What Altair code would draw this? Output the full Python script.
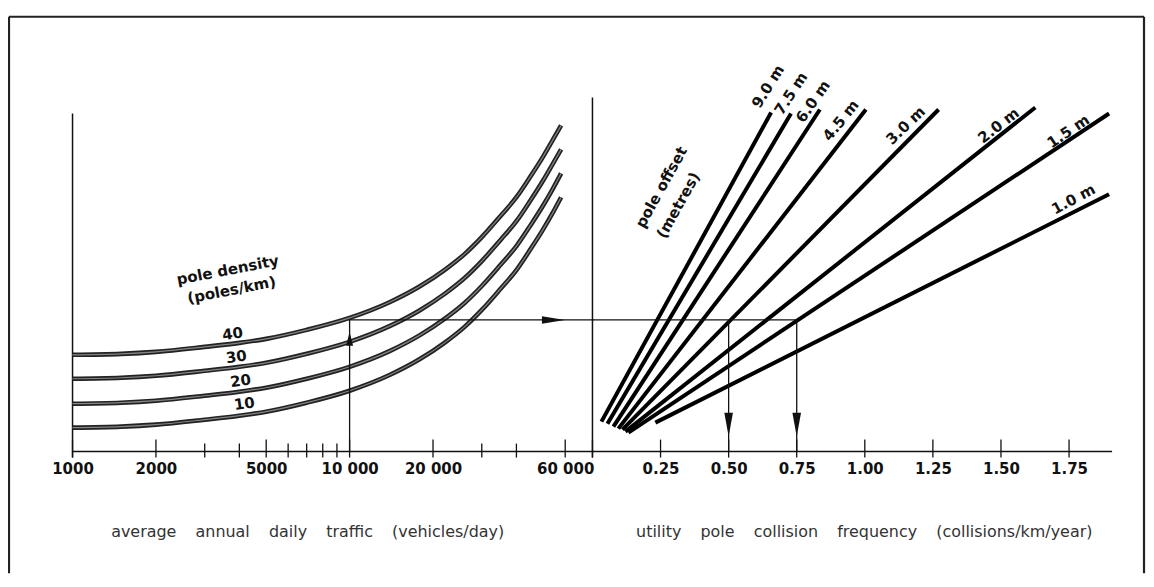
import altair as alt
import pandas as pd

W, H = 1138, 558

# ---------------- left panel: traffic (log) vs pole density ----------------
adt_points = [1000, 1500, 2000, 3000, 4000, 5000, 7000, 10000, 14000, 18000,
              22000, 26000, 30000, 35000, 40000, 45000, 50000, 54000, 58000]
density_values = [40, 30, 20, 10]
curve_40 = [9.7, 9.8, 10.0, 10.5, 10.9, 11.3, 12.2, 13.4, 15.0, 16.6, 18.2, 19.8, 21.5, 23.6, 25.5, 27.6, 29.6, 31.2, 32.7]
curve_30 = [7.3, 7.4, 7.6, 8.1, 8.5, 8.9, 9.8, 11.0, 12.6, 14.2, 15.8, 17.4, 19.1, 21.2, 23.1, 25.2, 27.2, 28.8, 30.3]
curve_20 = [4.8, 4.9, 5.1, 5.6, 6.0, 6.4, 7.3, 8.5, 10.1, 11.7, 13.3, 14.9, 16.6, 18.7, 20.6, 22.7, 24.7, 26.3, 27.9]
curve_10 = [2.4, 2.5, 2.7, 3.2, 3.6, 4.0, 4.9, 6.1, 7.7, 9.3, 10.9, 12.5, 14.2, 16.3, 18.2, 20.3, 22.3, 23.9, 25.5]
density_label_adt = [3780, 3900, 4040, 4170]
density_label_z = [11.8, 9.5, 7.1, 4.8]
density_title = ["pole density", "(poles/km)"]
density_title_adt = [3630, 3750]
density_title_z = [18.2, 16.2]

adt_ticks = [1000, 2000, 3000, 4000, 5000, 6000, 7000, 8000, 9000, 10000, 20000, 30000, 40000, 60000]
adt_tick_labels = {1000: "1000", 2000: "2000", 5000: "5000", 10000: "10 000", 20000: "20 000", 60000: "60 000"}
adt_axis_end = 76000
left_axis_top = 33.9
left_title = "average annual daily traffic (vehicles/day)"

# ---------------- right panel: collision frequency vs pole offset ----------------
offset_names = ["9.0 m", "7.5 m", "6.0 m", "4.5 m", "3.0 m", "2.0 m", "1.5 m", "1.0 m"]
offset_freq_start = [0.033, 0.055, 0.077, 0.095, 0.110, 0.121, 0.132, 0.231]
offset_z_start = [3.0, 2.8, 2.5, 2.3, 2.2, 2.0, 1.9, 2.9]
offset_freq_end = [0.656, 0.729, 0.835, 1.004, 1.271, 1.626, 1.897, 1.897]
offset_z_end = [34.0, 33.9, 34.3, 34.3, 34.3, 34.5, 33.9, 25.8]
offset_label_freq = [0.645, 0.729, 0.810, 0.912, 1.150, 1.491, 1.747, 1.766]
offset_label_z = [36.6, 35.9, 35.1, 33.2, 32.7, 32.7, 32.1, 25.3]
offset_label_tilt = [58, 57, 55, 51, 44, 38, 34, 28]
offset_title = ["pole offset", "(metres)"]
offset_title_freq = [0.253, 0.315]
offset_title_z = [26.5, 24.7]

freq_ticks = [0, 0.25, 0.5, 0.75, 1.0, 1.25, 1.5, 1.75]
freq_tick_labels = {0.25: "0.25", 0.5: "0.50", 0.75: "0.75", 1.0: "1.00", 1.25: "1.25", 1.5: "1.50", 1.75: "1.75"}
freq_axis_end = 1.908
right_axis_top = 35.5
right_title = "utility pole collision frequency (collisions/km/year)"

# ---------------- worked example (arrows) ----------------
example_adt = 10000
example_z = 13.2
example_freqs = [0.50, 0.75]
up_head = (10000, 11.3)
right_head = (54400, 13.2)
down_head_z = 2.7

# ---------------- scales / axes ----------------
FONT = "DejaVu Sans"
GAP = "\u2003\u2009"
left_scale = alt.Scale(type="log", domain=[1000, adt_axis_end], range=[63.7, 586.2], nice=False)
right_scale = alt.Scale(type="linear", domain=[0, freq_axis_end], range=[585, 1106], nice=False, zero=False)
y_scale = alt.Scale(domain=[0, 35.5], range=[436, 81], nice=False, zero=False)


def label_expr(mapping):
    expr = "''"
    for k, v in reversed(list(mapping.items())):
        expr = f"datum.value == {k} ? '{v}' : ({expr})"
    return expr


axis_common = dict(orient="bottom", ticks=False, tickSize=0, domain=False, grid=False,
                   offset=-116, labelPadding=4, labelFont=FONT, labelFontWeight="bold",
                   labelFontSize=15, labelColor="#111", labelOverlap=False, labelFlush=False,
                   titleFont=FONT, titleFontSize=16, titleFontWeight="normal", titleColor="#333",
                   titleY=74, titleAlign="center", titleBaseline="middle")
left_axis = alt.Axis(values=list(adt_tick_labels.keys()), labelExpr=label_expr(adt_tick_labels),
                     title=left_title.replace(" ", GAP), titleX=299, **axis_common)
right_axis = alt.Axis(values=list(freq_tick_labels.keys()), labelExpr=label_expr(freq_tick_labels),
                      title=right_title.replace(" ", GAP), titleX=857, **axis_common)

LX = alt.X("x:Q", scale=left_scale, axis=left_axis)
RX = alt.X("x:Q", scale=right_scale, axis=right_axis)
Y = alt.Y("y:Q", scale=y_scale, axis=None)
X2 = alt.X2("x2:Q")
Y2 = alt.Y2("y2:Q")

# ---------------- tables ----------------
curves = {40: curve_40, 30: curve_30, 20: curve_20, 10: curve_10}
curve_df = pd.DataFrame([{"x": a, "y": z, "density": d}
                         for d in density_values for a, z in zip(adt_points, curves[d])])
major_adt = set(adt_tick_labels.keys())
left_tick_df = pd.DataFrame([{"x": t, "x2": t, "y": -0.6, "y2": 1.2 if t in major_adt else 0.8}
                             for t in adt_ticks])
left_lines_df = pd.DataFrame([
    {"x": 1000, "x2": 1000, "y": -0.6, "y2": left_axis_top},
    {"x": 1000, "x2": adt_axis_end, "y": 0, "y2": 0},
])
left_arrow_df = pd.DataFrame([
    {"x": example_adt, "x2": example_adt, "y": 0, "y2": example_z},
    {"x": example_adt, "x2": adt_axis_end, "y": example_z, "y2": example_z},
])
up_df = pd.DataFrame([{"x": up_head[0], "y": up_head[1]}])
right_head_df = pd.DataFrame([{"x": right_head[0], "y": right_head[1]}])
dens_lab_df = pd.DataFrame({"x": density_label_adt, "y": density_label_z,
                            "label": [str(d) for d in density_values]})
dens_title_df = pd.DataFrame({"x": density_title_adt, "y": density_title_z, "label": density_title})

offset_df = pd.DataFrame({"x": offset_freq_start, "y": offset_z_start,
                          "x2": offset_freq_end, "y2": offset_z_end, "name": offset_names})
offset_lab_df = pd.DataFrame({"x": offset_label_freq, "y": offset_label_z, "label": offset_names,
                              "angle": [360 - a for a in offset_label_tilt]})
offset_title_df = pd.DataFrame({"x": offset_title_freq, "y": offset_title_z, "label": offset_title})
right_tick_df = pd.DataFrame([{"x": t, "x2": t, "y": -0.6, "y2": 1.2} for t in freq_ticks])
right_lines_df = pd.DataFrame([
    {"x": 0, "x2": 0, "y": -0.6, "y2": right_axis_top},
    {"x": 0, "x2": freq_axis_end, "y": 0, "y2": 0},
])
right_arrow_df = pd.DataFrame(
    [{"x": 0, "x2": max(example_freqs), "y": example_z, "y2": example_z}] +
    [{"x": f, "x2": f, "y": example_z, "y2": 0} for f in example_freqs])
down_df = pd.DataFrame({"x": example_freqs, "y": [down_head_z] * len(example_freqs)})
dummy = pd.DataFrame({"k": [0]})

# ---------------- left layers ----------------
curves_outer = alt.Chart(curve_df).mark_line(color="#222", strokeWidth=4.6, interpolate="monotone",
                                             strokeCap="butt").encode(x=LX, y=Y, detail="density:N")
curves_inner = alt.Chart(curve_df).mark_line(color="#858585", strokeWidth=1.2, interpolate="monotone",
                                             strokeCap="butt").encode(x=LX, y=Y, detail="density:N")
l_ticks = alt.Chart(left_tick_df).mark_rule(color="#111", strokeWidth=1.3).encode(x=LX, x2=X2, y=Y, y2=Y2)
l_lines = alt.Chart(left_lines_df).mark_rule(color="#111", strokeWidth=1.5).encode(x=LX, x2=X2, y=Y, y2=Y2)
l_arrows = alt.Chart(left_arrow_df).mark_rule(color="#111", strokeWidth=1.3).encode(x=LX, x2=X2, y=Y, y2=Y2)
l_up = alt.Chart(up_df).mark_point(shape="M0,-1L0.5,1L-0.5,1Z", filled=True, color="#111",
                                   size=196, opacity=1, strokeWidth=0).encode(x=LX, y=Y)
l_right = alt.Chart(right_head_df).mark_point(shape="M1,0L-1,0.33L-1,-0.33Z", filled=True, color="#111",
                                              size=530, opacity=1, strokeWidth=0).encode(x=LX, y=Y)
l_dens = alt.Chart(dens_lab_df).mark_text(font=FONT, fontWeight="bold", fontSize=15, angle=352,
                                          color="#111").encode(x=LX, y=Y, text="label:N")
l_title = alt.Chart(dens_title_df).mark_text(font=FONT, fontWeight="bold", fontSize=15, angle=349,
                                             color="#111").encode(x=LX, y=Y, text="label:N")
left = alt.layer(l_ticks, l_lines, curves_outer, curves_inner, l_arrows, l_up, l_right, l_dens, l_title)

# ---------------- right layers ----------------
r_ticks = alt.Chart(right_tick_df).mark_rule(color="#111", strokeWidth=1.3).encode(x=RX, x2=X2, y=Y, y2=Y2)
r_lines = alt.Chart(right_lines_df).mark_rule(color="#111", strokeWidth=1.5).encode(x=RX, x2=X2, y=Y, y2=Y2)
r_offsets = alt.Chart(offset_df).mark_rule(color="#000", strokeWidth=4, strokeCap="butt").encode(
    x=RX, x2=X2, y=Y, y2=Y2, detail="name:N")
r_arrows = alt.Chart(right_arrow_df).mark_rule(color="#111", strokeWidth=1.3).encode(x=RX, x2=X2, y=Y, y2=Y2)
r_down = alt.Chart(down_df).mark_point(shape="M0,1L0.36,-1L-0.36,-1Z", filled=True, color="#111",
                                       size=576, opacity=1, strokeWidth=0).encode(x=RX, y=Y)
r_lab = alt.Chart(offset_lab_df).mark_text(font=FONT, fontWeight="bold", fontSize=15, color="#111").encode(
    x=RX, y=Y, text="label:N", angle=alt.Angle("angle:Q", scale=None))
r_title = alt.Chart(offset_title_df).mark_text(font=FONT, fontWeight="bold", fontSize=15, angle=299,
                                               color="#111").encode(x=RX, y=Y, text="label:N")
right = alt.layer(r_ticks, r_lines, r_offsets, r_arrows, r_down, r_lab, r_title)

# ---------------- frame ----------------
frame_l = alt.Chart(dummy).mark_rule(color="#222", strokeWidth=2.2).encode(
    x=alt.value(0), y=alt.value(0), y2=alt.value(H))
frame_t = alt.Chart(dummy).mark_rule(color="#222", strokeWidth=2.2).encode(
    y=alt.value(0), x=alt.value(0), x2=alt.value(W))
frame_r = alt.Chart(dummy).mark_rule(color="#222", strokeWidth=2.2).encode(
    x=alt.value(W), y=alt.value(0), y2=alt.value(H))

chart = alt.layer(left, right, frame_l, frame_t, frame_r).resolve_scale(
    x="independent").resolve_axis(x="independent").properties(
    width=W, height=H, autosize="none",
    padding={"left": 1, "top": 8, "right": 2, "bottom": 0},
    background="white",
).configure_view(stroke=None)

chart.save("out.html", embed_options={"renderer": "svg", "actions": False})
